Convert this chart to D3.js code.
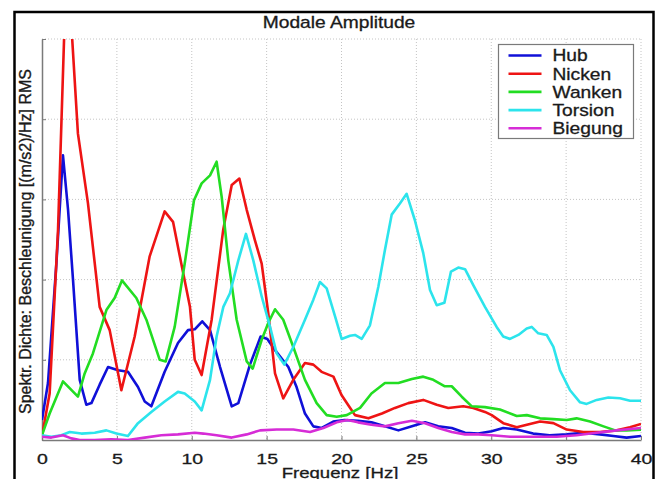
<!DOCTYPE html>
<html>
<head>
<meta charset="utf-8">
<script src="https://cdn.jsdelivr.net/npm/d3@7"></script>
<style>
  body { margin: 0; background: #fff; }
  svg { display: block; font-family: 'Liberation Sans', Arial, sans-serif; }
  .grid line { stroke: #c4c4c4; stroke-dasharray: 1,2; }
  .axis path, .axis line { stroke: #7a7a7a; }
  .axis text { fill: #1a1a1a; font-size: 15px; stroke: #1a1a1a; stroke-width: 0.3; }
</style>
</head>
<body>
<svg id="chart"></svg>
<script>
// frequency [Hz], amplitude (grid units)
const hub = [[0,0.25],[0.4,0.71],[0.96,2.2],[1.4,3.55],[1.74,2.87],[2.07,2.0],[2.52,0.75],[2.96,0.44],[3.3,0.46],[3.85,0.69],[4.41,0.91],[5.08,0.87],[5.74,0.85],[6.41,0.66],[6.86,0.48],[7.3,0.42],[8.19,0.85],[9.08,1.21],[9.75,1.37],[10.2,1.38],[10.7,1.48],[11.22,1.37],[11.89,0.91],[12.67,0.42],[13.11,0.46],[13.89,0.94],[14.6,1.29],[15.05,1.26],[15.56,1.12],[16.45,0.91],[17.0,0.66],[17.56,0.33],[18.12,0.17],[18.68,0.15],[19.45,0.23],[20.2,0.25],[21.1,0.24],[22.0,0.22],[22.9,0.17],[23.8,0.12],[24.7,0.17],[25.58,0.22],[26.46,0.17],[27.36,0.15],[28.25,0.09],[29.13,0.08],[30.03,0.11],[30.8,0.15],[31.7,0.13],[32.8,0.08],[33.9,0.06],[35.04,0.07],[36.15,0.09],[37.26,0.07],[38.15,0.05],[39.04,0.03],[40,0.05]];

const nicken = [[0,0.05],[0.51,0.58],[1.07,2.62],[1.66,6.1],[2.4,3.82],[3.07,2.95],[3.85,1.66],[4.52,1.37],[5.3,0.62],[6.19,1.29],[7.19,2.29],[8.19,2.85],[8.75,2.72],[9.3,2.2],[9.88,1.66],[10.2,1.0],[10.66,0.81],[11.33,1.5],[12.1,2.62],[12.67,3.18],[13.18,3.26],[13.67,2.87],[14.22,2.49],[14.67,2.2],[15.11,1.58],[15.56,0.83],[16.11,0.52],[16.78,0.75],[17.56,0.96],[18.12,0.94],[18.67,0.85],[19.46,0.79],[20.0,0.56],[20.5,0.42],[20.9,0.31],[21.8,0.27],[22.7,0.33],[23.57,0.40],[24.46,0.46],[25.46,0.50],[26.36,0.44],[27.13,0.40],[28.13,0.42],[28.8,0.40],[29.58,0.35],[30.03,0.31],[30.8,0.21],[31.7,0.16],[33.26,0.23],[34.15,0.21],[35.04,0.13],[36.15,0.10],[37.26,0.10],[38.38,0.12],[39.26,0.16],[40,0.20]];

const wanken = [[0,0.06],[0.51,0.33],[1.4,0.73],[2.4,0.54],[2.85,0.83],[3.4,1.08],[4.3,1.62],[4.85,1.77],[5.34,1.99],[6.3,1.77],[6.97,1.50],[7.86,1.0],[8.26,0.98],[8.86,1.41],[9.53,2.2],[10.15,2.99],[10.66,3.2],[11.22,3.3],[11.66,3.47],[12.0,3.03],[12.44,2.24],[13.0,1.50],[13.67,0.98],[14.07,0.89],[14.67,1.25],[15.11,1.46],[15.56,1.63],[16.11,1.50],[16.78,1.16],[17.56,0.75],[18.34,0.46],[19.01,0.31],[19.68,0.29],[20.35,0.31],[21.24,0.40],[22.0,0.58],[22.9,0.71],[23.8,0.71],[24.7,0.76],[25.46,0.79],[26.13,0.75],[26.9,0.67],[27.36,0.67],[28.03,0.54],[28.7,0.42],[29.58,0.41],[30.58,0.38],[31.7,0.30],[32.37,0.31],[33.26,0.27],[34.15,0.26],[35.04,0.25],[35.7,0.27],[36.6,0.23],[37.5,0.17],[38.28,0.12],[39.04,0.12],[40,0.13]];

const torsion = [[0,0.06],[0.62,0.04],[1.29,0.06],[1.85,0.10],[2.63,0.08],[3.52,0.09],[4.3,0.12],[4.97,0.08],[5.74,0.05],[6.41,0.21],[7.3,0.35],[8.19,0.48],[9.08,0.60],[9.53,0.58],[10.2,0.48],[10.66,0.37],[11.22,0.75],[11.66,1.29],[12.11,1.66],[12.55,1.83],[13.11,2.24],[13.62,2.57],[14.11,2.24],[14.67,1.79],[15.23,1.41],[15.67,1.08],[16.18,0.94],[16.78,1.16],[17.56,1.50],[18.12,1.75],[18.56,1.97],[19.01,1.89],[19.57,1.54],[20.01,1.26],[20.57,1.30],[20.9,1.31],[21.35,1.26],[21.9,1.43],[22.46,1.91],[22.9,2.37],[23.35,2.81],[23.9,2.95],[24.35,3.07],[24.9,2.74],[25.46,2.33],[25.91,1.87],[26.36,1.68],[26.87,1.71],[27.31,2.10],[27.8,2.15],[28.25,2.13],[28.8,1.93],[29.58,1.66],[30.36,1.41],[30.8,1.29],[31.25,1.26],[31.81,1.31],[32.37,1.39],[32.7,1.41],[33.14,1.33],[33.7,1.31],[34.15,1.16],[34.59,0.87],[35.26,0.62],[35.93,0.47],[36.37,0.45],[37.04,0.50],[37.82,0.53],[38.6,0.52],[39.27,0.49],[40,0.49]];

const biegung = [[0,0.04],[0.62,0.03],[1.4,0.06],[1.96,0.02],[2.52,0.0],[3.52,0.0],[4.63,0.01],[5.74,0.0],[6.86,0.03],[7.97,0.06],[9.08,0.07],[10.2,0.09],[10.77,0.08],[11.66,0.06],[12.67,0.03],[13.67,0.07],[14.56,0.12],[15.67,0.13],[16.78,0.13],[17.9,0.10],[18.79,0.15],[19.68,0.22],[20.4,0.25],[21.1,0.22],[22.0,0.19],[22.9,0.17],[23.8,0.21],[24.7,0.24],[25.58,0.21],[26.46,0.15],[27.36,0.10],[28.25,0.07],[29.13,0.07],[30.03,0.06],[31.25,0.04],[32.8,0.04],[34.37,0.04],[35.7,0.06],[37.04,0.09],[38.38,0.12],[40,0.15]];

const seriesNames = ['Hub', 'Nicken', 'Wanken', 'Torsion', 'Biegung'];
const seriesData = [hub, nicken, wanken, torsion, biegung];
const seriesColors = ['#1010d8', '#ee1414', '#22dd22', '#2ce4ec', '#d62cd6'];

const xTicks = [0, 5, 10, 15, 20, 25, 30, 35, 40];
const yTicks = [0, 1, 2, 3, 4, 5];

const titleText = 'Modale Amplitude';
const xLabel = 'Frequenz [Hz]';
const yLabel = 'Spektr. Dichte: Beschleunigung [(m/s2)/Hz] RMS';

const margin = { top: 39, right: 19, bottom: 39, left: 42 };
const fullW = 660, fullH = 479;
const width = fullW - margin.left - margin.right;
const height = fullH - margin.top - margin.bottom;

// the exported figure is a bit wider than tall, text looks stretched
const stretch = 1.2;

const xScale = d3.scaleLinear().domain([0, 40]).range([0, width]);
const yScale = d3.scaleLinear().domain([0, 5]).range([height, 0]);

const root = d3.select('#chart')
    .attr('width', fullW)
    .attr('height', fullH);

root.append('rect')
    .attr('width', fullW).attr('height', fullH)
    .attr('fill', '#fff');

// outer figure frame
root.append('rect')
    .attr('x', 14.5).attr('y', 12)
    .attr('width', 639).attr('height', 480)
    .attr('fill', 'none')
    .attr('stroke', '#000')
    .attr('stroke-width', 2.5);

const addText = (parent, x, y, size, sx, txt) =>
  parent.append('text')
      .attr('transform', 'translate(' + x + ',' + y + ') scale(' + sx + ',1)')
      .attr('font-size', size)
      .attr('fill', '#1a1a1a')
      .attr('stroke', '#1a1a1a')
      .attr('stroke-width', 0.3)
      .text(txt);

addText(root, 339, 28, 16, stretch, titleText)
    .attr('text-anchor', 'middle');

const svg = root.append('g')
    .attr('transform', 'translate(' + margin.left + ',' + margin.top + ')');

// grid
const grid = svg.append('g').attr('class', 'grid');

grid.selectAll('line.gx')
    .data(xTicks.slice(1))
  .enter().append('line')
    .attr('class', 'gx')
    .attr('x1', d => xScale(d)).attr('x2', d => xScale(d))
    .attr('y1', 0).attr('y2', height);

grid.selectAll('line.gy')
    .data(yTicks.slice(1))
  .enter().append('line')
    .attr('class', 'gy')
    .attr('x1', 0).attr('x2', width)
    .attr('y1', d => yScale(d)).attr('y2', d => yScale(d));

svg.append('g')
    .attr('class', 'x axis')
    .attr('transform', 'translate(0,' + height + ')')
    .call(d3.axisBottom(xScale).tickValues(xTicks).tickSizeInner(-4).tickSizeOuter(0).tickPadding(10))
    .call(g => g.selectAll('text').attr('dy', '0.95em').attr('transform', 'scale(1.3,1)'));

svg.append('g')
    .attr('class', 'y axis')
    .call(d3.axisLeft(yScale).tickValues(yTicks).tickSizeInner(-4).tickSizeOuter(0).tickFormat(''));

svg.selectAll('.axis path').attr('stroke-width', 1.5);

svg.append('clipPath')
    .attr('id', 'plotclip')
  .append('rect')
    .attr('x', 0).attr('y', 0)
    .attr('width', width).attr('height', height);

const line = d3.line()
    .x(d => xScale(d[0]))
    .y(d => yScale(d[1]));

svg.append('g')
    .attr('clip-path', 'url(#plotclip)')
  .selectAll('path')
    .data(seriesData)
  .enter().append('path')
    .attr('d', line)
    .attr('fill', 'none')
    .attr('stroke', (d, i) => seriesColors[i])
    .attr('stroke-width', 2.6)
    .attr('stroke-linejoin', 'round');

// axis labels
addText(root, 340, 478, 15.5, stretch, xLabel)
    .attr('text-anchor', 'middle');

root.append('text')
    .attr('transform', 'translate(31,' + (margin.top + height / 2 + 2) + ') rotate(-90)')
    .attr('text-anchor', 'middle')
    .attr('font-size', 16)
    .attr('fill', '#1a1a1a')
    .attr('stroke', '#1a1a1a')
    .attr('stroke-width', 0.35)
    .text(yLabel);

// legend
const legend = root.append('g')
    .attr('transform', 'translate(498.5,44.5)');

legend.append('rect')
    .attr('width', 135).attr('height', 94)
    .attr('fill', '#fff')
    .attr('stroke', '#7a7a7a')
    .attr('stroke-width', 1.2);

const rows = legend.selectAll('g.row')
    .data(seriesNames)
  .enter().append('g')
    .attr('class', 'row')
    .attr('transform', (d, i) => 'translate(0,' + (11 + i * 18.2) + ')');

rows.append('line')
    .attr('x1', 10).attr('x2', 43)
    .attr('stroke', (d, i) => seriesColors[i])
    .attr('stroke-width', 2.6);

rows.each(function(d) {
  addText(d3.select(this), 54, 5.8, 16, stretch, d);
});
</script>
</body>
</html>
